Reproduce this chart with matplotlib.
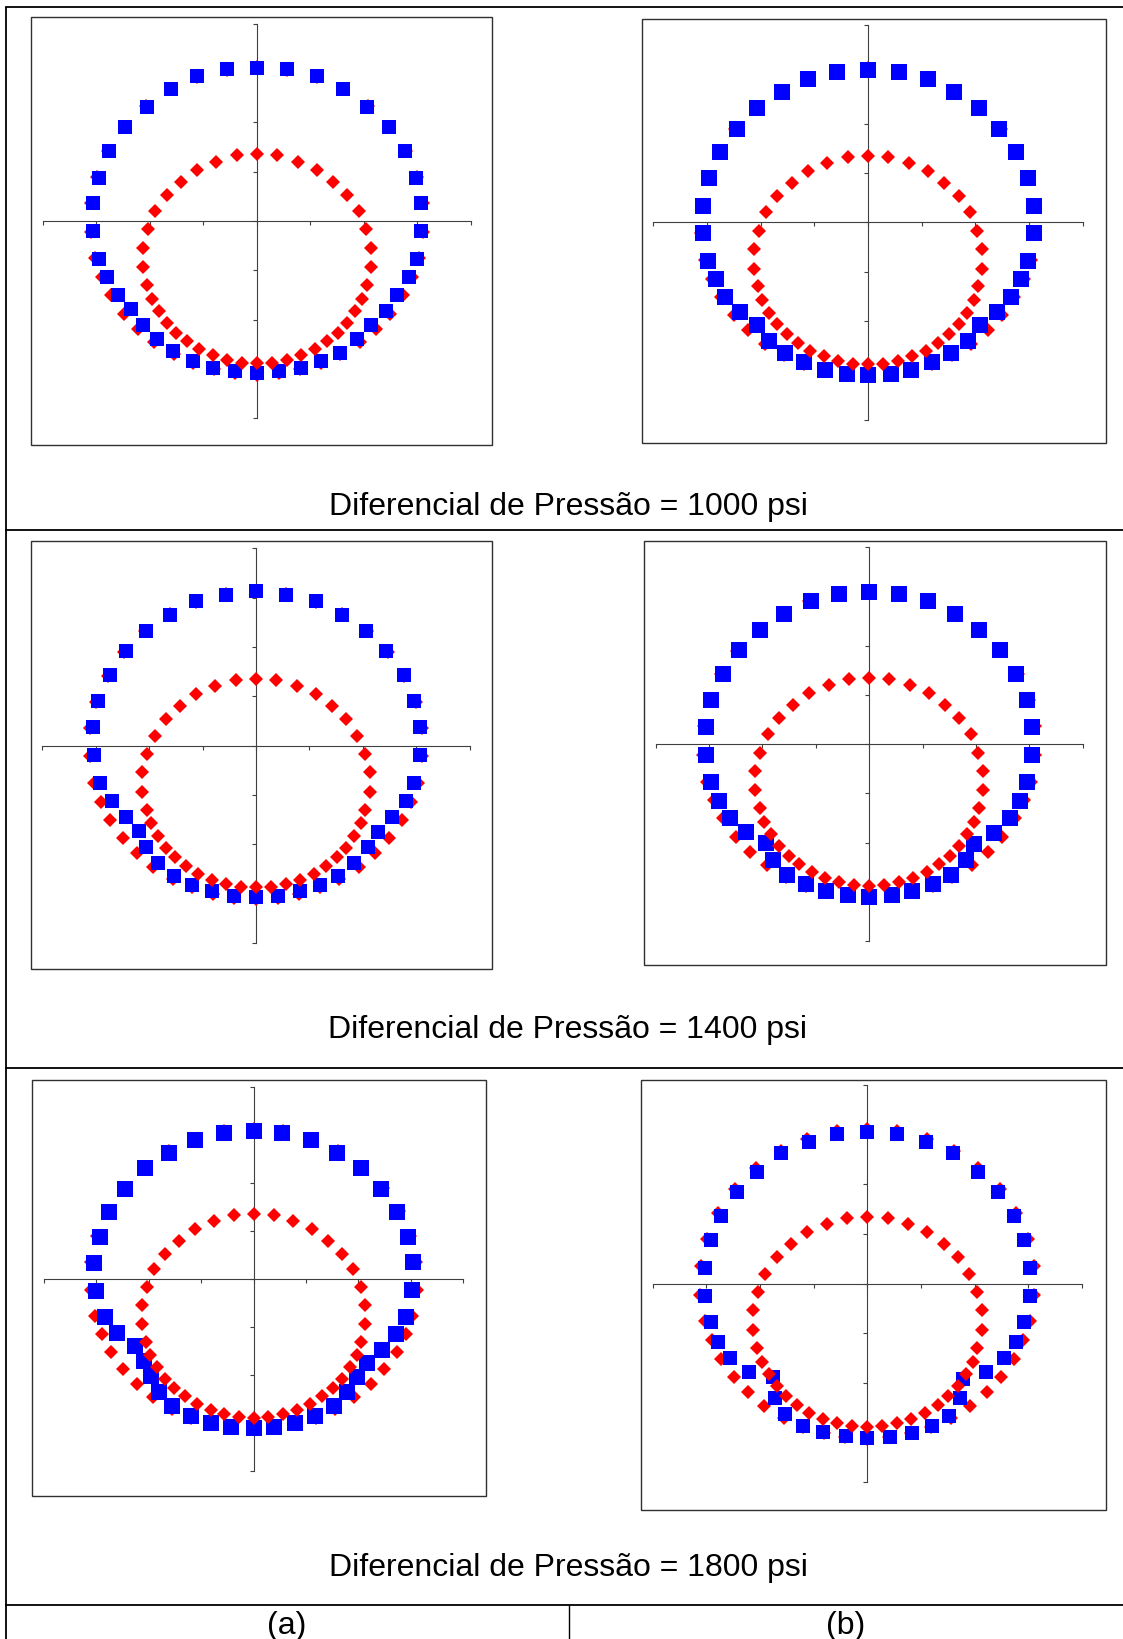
import matplotlib
matplotlib.use('Agg')
import matplotlib.pyplot as plt
from matplotlib.patches import Rectangle

# ---- data (axis units, cross axes span -4..4) ----
# outer reference ring (red diamonds, same in all panels)
outer_x = [0.00, 0.56, 1.12, 1.61, 2.07, 2.47, 2.78, 2.99, 3.10, 3.11, 3.03, 2.90, 2.73, 2.49,
           2.23, 1.92, 1.56, 1.19, 0.81, 0.41, 0.00, -0.41, -0.81, -1.19, -1.56, -1.92, -2.23,
           -2.49, -2.73, -2.90, -3.03, -3.11, -3.10, -2.99, -2.78, -2.47, -2.07, -1.61, -1.12, -0.56]
outer_y = [3.12, 3.07, 2.91, 2.67, 2.33, 1.90, 1.42, 0.89, 0.36, -0.22, -0.76, -1.14, -1.51, -1.88,
           -2.19, -2.46, -2.70, -2.88, -3.01, -3.09, -3.12, -3.09, -3.01, -2.88, -2.70, -2.46, -2.19,
           -1.88, -1.51, -1.14, -0.76, -0.22, 0.36, 0.89, 1.42, 1.90, 2.33, 2.67, 2.91, 3.07]

# inner ring (red diamonds, same in all panels)
inner_x = [0.00, 0.38, 0.76, 1.12, 1.42, 1.69, 1.90, 2.04, 2.13, 2.13, 2.05, 1.97, 1.84, 1.69,
           1.51, 1.31, 1.08, 0.82, 0.56, 0.28, 0.00, -0.28, -0.56, -0.82, -1.08, -1.31, -1.51,
           -1.69, -1.84, -1.97, -2.05, -2.13, -2.13, -2.04, -1.90, -1.69, -1.42, -1.12, -0.76, -0.38]
inner_y = [1.35, 1.33, 1.20, 1.04, 0.80, 0.53, 0.20, -0.17, -0.54, -0.94, -1.30, -1.58, -1.83, -2.07,
           -2.27, -2.44, -2.60, -2.72, -2.81, -2.87, -2.88, -2.87, -2.81, -2.72, -2.60, -2.44, -2.27,
           -2.07, -1.83, -1.58, -1.30, -0.94, -0.54, -0.17, 0.20, 0.53, 0.80, 1.04, 1.20, 1.33]

# deformed ring (blue squares), one per panel: 1000a, 1000b, 1400a, 1400b, 1800a, 1800b
blue_x = [
    [0.00, 0.56, 1.12, 1.61, 2.06, 2.47, 2.77, 2.97, 3.07, 3.07, 3.00, 2.85, 2.62, 2.41, 2.14, 1.87,
     1.56, 1.20, 0.82, 0.41, 0.00, -0.42, -0.82, -1.20, -1.57, -1.87, -2.13, -2.36, -2.59, -2.80,
     -2.95, -3.07, -3.07, -2.95, -2.76, -2.46, -2.06, -1.61, -1.12, -0.56],
    [0.00, 0.57, 1.11, 1.61, 2.07, 2.45, 2.76, 2.98, 3.09, 3.09, 2.99, 2.86, 2.66, 2.40, 2.08, 1.86,
     1.55, 1.19, 0.81, 0.42, 0.00, -0.40, -0.81, -1.20, -1.55, -1.85, -2.07, -2.39, -2.66, -2.84,
     -2.98, -3.08, -3.08, -2.96, -2.75, -2.44, -2.07, -1.60, -1.11, -0.57],
    [0.00, 0.56, 1.12, 1.61, 2.06, 2.43, 2.77, 2.96, 3.07, 3.07, 2.96, 2.81, 2.55, 2.28, 2.10, 1.83,
     1.54, 1.20, 0.82, 0.42, 0.00, -0.41, -0.82, -1.20, -1.53, -1.83, -2.06, -2.20, -2.43, -2.69,
     -2.93, -3.03, -3.06, -2.95, -2.73, -2.43, -2.06, -1.61, -1.12, -0.56],
    [0.00, 0.56, 1.11, 1.61, 2.06, 2.45, 2.75, 2.96, 3.06, 3.06, 2.96, 2.83, 2.63, 2.33, 1.97, 1.81,
     1.54, 1.19, 0.81, 0.42, 0.00, -0.39, -0.80, -1.18, -1.54, -1.80, -1.94, -2.31, -2.61, -2.81,
     -2.96, -3.06, -3.06, -2.96, -2.74, -2.44, -2.05, -1.60, -1.09, -0.56],
    [0.00, 0.55, 1.09, 1.60, 2.05, 2.43, 2.73, 2.94, 3.04, 3.03, 2.91, 2.72, 2.45, 2.17, 1.98, 1.79,
     1.53, 1.18, 0.79, 0.39, 0.00, -0.43, -0.81, -1.20, -1.55, -1.80, -1.96, -2.09, -2.26, -2.61,
     -2.84, -3.01, -3.04, -2.94, -2.75, -2.45, -2.07, -1.61, -1.11, -0.56],
    [0.00, 0.56, 1.09, 1.60, 2.06, 2.43, 2.73, 2.92, 3.03, 3.03, 2.92, 2.77, 2.55, 2.21, 1.79, 1.73,
     1.53, 1.20, 0.83, 0.42, 0.00, -0.40, -0.82, -1.19, -1.53, -1.72, -1.75, -2.20, -2.55, -2.78,
     -2.92, -3.02, -3.02, -2.92, -2.73, -2.43, -2.06, -1.61, -1.08, -0.56],
]
blue_y = [
    [3.11, 3.08, 2.93, 2.68, 2.32, 1.90, 1.41, 0.88, 0.36, -0.21, -0.77, -1.13, -1.50, -1.82, -2.10,
     -2.39, -2.68, -2.84, -2.97, -3.05, -3.08, -3.05, -2.97, -2.84, -2.64, -2.39, -2.11, -1.78, -1.50,
     -1.13, -0.77, -0.21, 0.36, 0.88, 1.41, 1.90, 2.32, 2.68, 2.93, 3.09],
    [3.09, 3.05, 2.91, 2.65, 2.31, 1.89, 1.42, 0.89, 0.34, -0.22, -0.78, -1.15, -1.51, -1.82, -2.08,
     -2.40, -2.65, -2.84, -2.99, -3.07, -3.09, -3.07, -2.99, -2.84, -2.65, -2.40, -2.08, -1.82, -1.51,
     -1.15, -0.78, -0.22, 0.34, 0.89, 1.42, 1.89, 2.31, 2.65, 2.91, 3.05],
    [3.13, 3.06, 2.93, 2.65, 2.32, 1.92, 1.43, 0.91, 0.37, -0.20, -0.76, -1.12, -1.44, -1.76, -2.06,
     -2.38, -2.64, -2.83, -2.96, -3.05, -3.07, -3.05, -2.96, -2.83, -2.64, -2.38, -2.06, -1.73, -1.44,
     -1.12, -0.76, -0.20, 0.37, 0.91, 1.43, 1.92, 2.32, 2.65, 2.93, 3.06],
    [3.10, 3.06, 2.90, 2.65, 2.31, 1.91, 1.43, 0.90, 0.35, -0.22, -0.77, -1.15, -1.50, -1.80, -2.03,
     -2.35, -2.65, -2.84, -2.98, -3.06, -3.10, -3.06, -2.98, -2.84, -2.65, -2.35, -2.01, -1.79, -1.50,
     -1.15, -0.77, -0.22, 0.35, 0.90, 1.43, 1.91, 2.31, 2.65, 2.90, 3.06],
    [3.08, 3.04, 2.89, 2.63, 2.30, 1.88, 1.40, 0.88, 0.35, -0.23, -0.78, -1.14, -1.47, -1.74, -2.04,
     -2.35, -2.64, -2.85, -2.99, -3.07, -3.09, -3.07, -2.99, -2.85, -2.64, -2.34, -2.01, -1.71, -1.40,
     -1.12, -0.78, -0.24, 0.33, 0.88, 1.40, 1.88, 2.30, 2.63, 2.89, 3.04],
    [3.06, 3.01, 2.86, 2.62, 2.25, 1.85, 1.36, 0.88, 0.32, -0.25, -0.77, -1.17, -1.49, -1.78, -1.93,
     -2.30, -2.66, -2.87, -3.00, -3.08, -3.10, -3.07, -2.99, -2.87, -2.63, -2.30, -1.89, -1.78, -1.49,
     -1.17, -0.77, -0.25, 0.32, 0.88, 1.36, 1.85, 2.25, 2.62, 2.86, 3.01],
]

captions = ['Diferencial de Pressão = 1000 psi',
            'Diferencial de Pressão = 1400 psi',
            'Diferencial de Pressão = 1800 psi']
col_labels = ['(a)', '(b)']

# ---- layout (pixels) ----
W, H = 1123, 1640
# box left, top, right, bottom ; xlim ; ylim ; square size, diamond size (pt)
panels = [
    ((31, 18, 492, 446), (-4.224, 4.393), (-4.541, 4.135), 10.0, 6.8),
    ((642, 20, 1106, 444), (-4.211, 4.435), (-4.474, 4.121), 11.3, 7.6),
    ((31, 542, 492, 970), (-4.214, 4.419), (-4.534, 4.150), 10.0, 6.9),
    ((644, 542, 1106, 966), (-4.219, 4.438), (-4.489, 4.129), 11.3, 7.4),
    ((32, 1081, 486, 1497), (-4.228, 4.433), (-4.511, 4.138), 11.0, 7.4),
    ((641, 1081, 1106, 1511), (-4.217, 4.448), (-4.558, 4.099), 10.0, 6.8),
]

plt.rcParams['font.family'] = ['Liberation Sans', 'DejaVu Sans']

fig = plt.figure(figsize=(W / 100, H / 100), dpi=100)
fig.patch.set_facecolor('white')

bg = fig.add_axes([0, 0, 1, 1])
bg.set_xlim(0, W)
bg.set_ylim(H, 0)
bg.axis('off')

# table rules
lw_t = 1.3
bg.plot([6, 6], [7.5, H], color='black', lw=lw_t, solid_capstyle='butt')
bg.plot([6, W], [7.5, 7.5], color='black', lw=lw_t)
for yy in [531, 1069, 1606]:
    bg.plot([6, W], [yy, yy], color='black', lw=lw_t)
bg.plot([569, 569], [1606, H], color='black', lw=1.0)

for i, cap in enumerate(captions):
    bg.text(568, [515, 1038, 1576][i], cap, ha='center', va='baseline', fontsize=23)
for j, lab in enumerate(col_labels):
    bg.text([287, 846][j], 1634, lab, ha='center', va='baseline', fontsize=23)

for k, (box, xl, yl, ms_s, ms_d) in enumerate(panels):
    l, t, r, b = box
    ax = fig.add_axes([l / W, 1 - b / H, (r - l) / W, (b - t) / H])
    ax.patch.set_alpha(0)
    ax.set_xlim(*xl)
    ax.set_ylim(*yl)
    for s in ['top', 'right']:
        ax.spines[s].set_visible(False)
    for s in ['left', 'bottom']:
        ax.spines[s].set_position(('data', 0))
        ax.spines[s].set_bounds(-4, 4)
        ax.spines[s].set_color('#404040')
        ax.spines[s].set_linewidth(0.8)
    ax.set_xticks(range(-4, 5))
    ax.set_yticks(range(-4, 5))
    ax.tick_params(direction='out', length=3, width=0.8, color='#404040',
                   labelbottom=False, labelleft=False)
    ax.add_patch(Rectangle((0, 0), 1, 1, transform=ax.transAxes, fill=False,
                           ec='#303030', lw=1.0, clip_on=False))

    ax.plot(outer_x, outer_y, ls='none', marker='D', color='#FF0000', ms=ms_d,
            mew=0, zorder=3, clip_on=False)
    ax.plot(blue_x[k], blue_y[k], ls='none', marker='s', color='#0000FF', ms=ms_s,
            mew=0, zorder=4, clip_on=False)
    ax.plot(inner_x, inner_y, ls='none', marker='D', color='#FF0000', ms=ms_d,
            mew=0, zorder=5, clip_on=False)

plt.savefig('out.png', dpi=100, facecolor='white')
